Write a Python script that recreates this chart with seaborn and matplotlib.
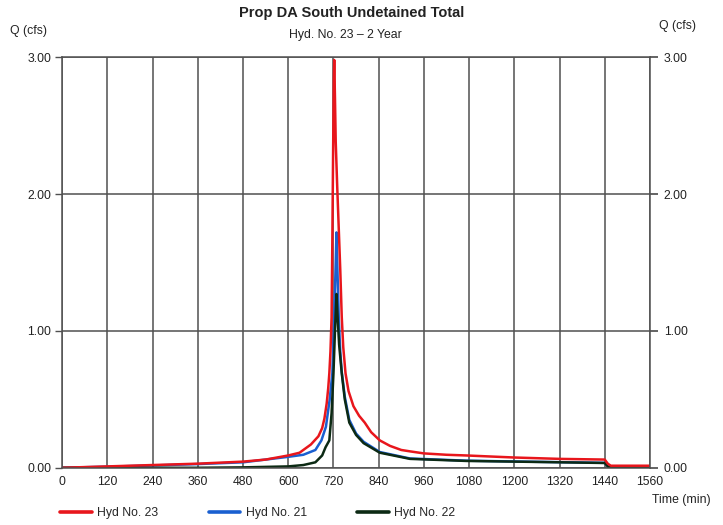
import numpy as np
import pandas as pd
import matplotlib
matplotlib.use("Agg")
import matplotlib.pyplot as plt
import seaborn as sns

# Hydrograph ordinates (time in minutes, discharge in cfs)
t_23 = [0, 120, 240, 360, 480, 540, 600, 630, 660, 680, 690, 696, 702, 706, 709, 712, 715, 717, 719, 721,
        722, 724, 726, 730, 734, 738, 742, 746, 752, 760, 773, 788, 803, 820, 843, 870, 900, 923, 960,
        1020, 1072, 1200, 1320, 1440, 1448, 1456, 1560]
q_23 = [0.0, 0.01, 0.02, 0.03, 0.045, 0.06, 0.09, 0.11, 0.17, 0.23, 0.29, 0.36, 0.47, 0.58, 0.69, 0.85, 1.1,
        1.66, 2.3, 2.85, 2.98, 2.7, 2.38, 2.05, 1.75, 1.45, 1.1, 0.88, 0.69, 0.56, 0.45, 0.38, 0.33, 0.26,
        0.2, 0.16, 0.13, 0.12, 0.105, 0.095, 0.09, 0.075, 0.065, 0.06, 0.03, 0.015, 0.015]

t_21 = [0, 120, 240, 360, 480, 600, 640, 672, 688, 700, 710, 717, 722, 726, 728, 730, 734, 738, 742, 750,
        762, 780, 800, 843, 923, 1072, 1200, 1320, 1440, 1450, 1560]
q_21 = [0.0, 0.008, 0.017, 0.027, 0.04, 0.08, 0.095, 0.13, 0.2, 0.3, 0.5, 0.69, 1.1, 1.5, 1.72, 1.5, 1.1, 0.85,
        0.7, 0.52, 0.35, 0.25, 0.19, 0.115, 0.068, 0.052, 0.046, 0.041, 0.036, 0.004, 0.0]

t_22 = [0, 360, 480, 600, 640, 672, 690, 699, 709, 715, 720, 724, 728, 731, 735, 742, 750, 762, 780, 800,
        843, 923, 1072, 1200, 1320, 1440, 1450, 1560]
q_22 = [0.0, 0.0, 0.003, 0.01, 0.02, 0.04, 0.09, 0.15, 0.2, 0.4, 0.69, 1.0, 1.27, 1.1, 0.9, 0.69, 0.5, 0.33,
        0.24, 0.18, 0.11, 0.065, 0.05, 0.045, 0.04, 0.035, 0.004, 0.0]

names = ["Hyd No. 23", "Hyd No. 21", "Hyd No. 22"]
colors = ["#e8161c", "#1a5fd0", "#0c2a14"]
series = {"Hyd No. 23": (t_23, q_23), "Hyd No. 21": (t_21, q_21), "Hyd No. 22": (t_22, q_22)}

x_ticks = list(range(0, 1561, 120))
y_ticks = [0.0, 1.0, 2.0, 3.0]

sns.set_theme(style="white")
plt.rcParams["font.family"] = ["Liberation Sans", "DejaVu Sans"]

fig = plt.figure(figsize=(7.23, 5.25), dpi=100)
ax = fig.add_axes([0.086, 0.109, 0.813, 0.782])

grid_c = "#505050"
ax.set_xlim(0, 1560)
ax.set_ylim(0, 3.0)
ax.set_xticks(x_ticks)
ax.set_yticks(y_ticks)
ax.grid(True, color=grid_c, linewidth=1.1)
ax.set_axisbelow(True)

# draw order: blue under green, red on top
palette = dict(zip(names, colors))
for name in ["Hyd No. 21", "Hyd No. 22", "Hyd No. 23"]:
    t, q = series[name]
    sns.lineplot(x=t, y=q, color=palette[name], linewidth=1.8, ax=ax,
                 sort=False, estimator=None)

ax.set_xlabel("")
ax.set_ylabel("")
ax.set_xticklabels([str(v) for v in x_ticks])
ax.set_yticklabels([f"{v:.2f}" for v in y_ticks])
for s in ax.spines.values():
    s.set_color(grid_c)
    s.set_linewidth(1.1)
ax.tick_params(axis="both", labelsize=8.8, colors="#222222", length=5, width=1.0, direction="out")
ax.tick_params(axis="x", length=0, pad=6)
ax.tick_params(axis="y", color=grid_c, pad=3)

ax2 = ax.twinx()
ax2.set_ylim(0, 3.0)
ax2.set_yticks(y_ticks)
ax2.set_yticklabels([f"{v:.2f}" for v in y_ticks])
ax2.tick_params(axis="y", labelsize=8.8, colors="#222222", length=6, color=grid_c, pad=4)
for s in ax2.spines.values():
    s.set_visible(False)
ax2.grid(False)

fig.text(0.487, 0.975, "Prop DA South Undetained Total", ha="center", va="center",
         fontsize=10.5, fontweight="bold", color="#222222")
fig.text(0.478, 0.934, "Hyd. No. 23 \u2013 2 Year", ha="center", va="center",
         fontsize=8.8, color="#222222")
fig.text(0.014, 0.941, "Q (cfs)", ha="left", va="center", fontsize=8.8, color="#222222")
fig.text(0.912, 0.950, "Q (cfs)", ha="left", va="center", fontsize=8.8, color="#222222")
fig.text(0.902, 0.047, "Time (min)", ha="left", va="center", fontsize=8.8, color="#222222")

handles = [plt.Line2D([], [], color=c, linewidth=2.6) for c in colors]
fig.legend(handles, names, loc="center left", bbox_to_anchor=(0.083, 0.022), ncol=3,
           frameon=False, fontsize=8.8, handlelength=2.6, handletextpad=0.45, columnspacing=4.1,
           borderaxespad=0, borderpad=0)

fig.savefig("out.png", dpi=100, facecolor="white")
